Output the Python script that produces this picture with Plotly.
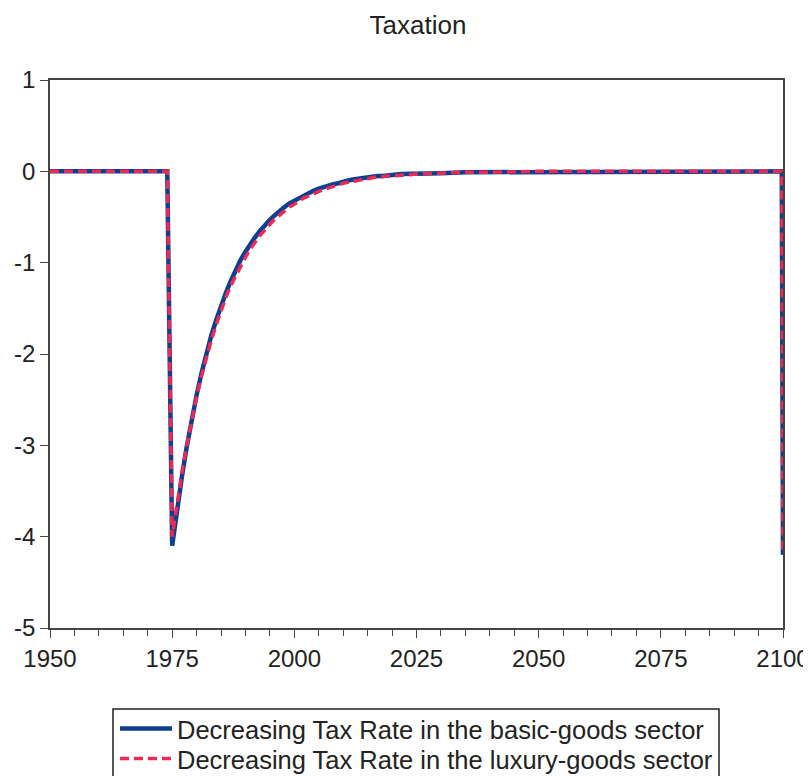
import plotly.graph_objects as go

years = [1950, 1960, 1970, 1974,
         1975, 1976, 1977, 1978, 1979, 1980, 1981, 1982, 1983, 1984,
         1985, 1986, 1987, 1988, 1989, 1990, 1991, 1992, 1993, 1994,
         1995, 1996, 1997, 1998, 1999, 2000, 2001, 2002, 2003, 2004,
         2005, 2006, 2007, 2008, 2009, 2010, 2011, 2012, 2013, 2014,
         2015, 2016, 2017, 2018, 2019, 2020, 2022, 2025, 2030, 2035,
         2040, 2050, 2060, 2075, 2090, 2099.75, 2100]

basic = [0.0, 0.0, 0.0, 0.0,
         -4.10, -3.70, -3.34, -3.01, -2.72, -2.45, -2.21, -2.00, -1.80, -1.63,
         -1.47, -1.33, -1.20, -1.08, -0.97, -0.88, -0.79, -0.72, -0.65, -0.58,
         -0.53, -0.48, -0.43, -0.39, -0.35, -0.32, -0.29, -0.26, -0.23, -0.21,
         -0.19, -0.17, -0.15, -0.14, -0.13, -0.11, -0.10, -0.09, -0.08, -0.07,
         -0.07, -0.06, -0.05, -0.05, -0.04, -0.04, -0.03, -0.03, -0.02, -0.01,
         -0.01, 0.0, 0.0, 0.0, 0.0, 0.0, -4.2]

luxury = [0.0, 0.0, 0.0, 0.0,
          -4.00, -3.63, -3.30, -3.00, -2.72, -2.47, -2.24, -2.03, -1.85, -1.68,
          -1.52, -1.38, -1.25, -1.14, -1.03, -0.94, -0.85, -0.77, -0.70, -0.64,
          -0.58, -0.52, -0.48, -0.43, -0.39, -0.36, -0.32, -0.29, -0.27, -0.24,
          -0.22, -0.20, -0.18, -0.16, -0.15, -0.13, -0.12, -0.11, -0.10, -0.09,
          -0.08, -0.07, -0.06, -0.06, -0.05, -0.05, -0.04, -0.03, -0.02, -0.01,
          -0.01, 0.0, 0.0, 0.0, 0.0, 0.0, -4.2]

names = ["Decreasing Tax Rate in the basic-goods sector",
         "Decreasing Tax Rate in the luxury-goods sector"]

x_ticks = [1950, 1975, 2000, 2025, 2050, 2075, 2100]
y_ticks = [1, 0, -1, -2, -3, -4, -5]
y_tick_text = ["1", "0", "-1", "-2", "-3", "-4", "-5"]

FONT = "Liberation Sans, Arial, sans-serif"
INK = "#222222"
AX = "#444444"

# figure is placed by the page with an 8px body offset
W, H = 803, 768
L, R, T, B = 42, 28, 72, 148
PH = H - T - B          # plot height in px
PW = W - L - R          # plot width in px


def px_to_paper_y(fig_y):
    return (H - B - fig_y) / PH


def px_to_paper_x(fig_x):
    return (fig_x - L) / PW


fig = go.Figure()
fig.add_trace(go.Scatter(x=years, y=basic, mode="lines", name=names[0],
                         legend="legend",
                         line=dict(color="#0b3f91", width=4.5)))
fig.add_trace(go.Scatter(x=years, y=luxury, mode="lines", name=names[1],
                         legend="legend2",
                         line=dict(color="#ec2a55", width=3.5, dash="9px,5px")))

leg_common = dict(orientation="v", xanchor="left", yanchor="middle",
                  x=px_to_paper_x(107), borderwidth=0, bgcolor="rgba(0,0,0,0)",
                  font=dict(family=FONT, size=25.5, color=INK),
                  itemwidth=52)

fig.update_layout(
    width=W, height=H,
    margin=dict(l=L, r=R, t=T, b=B, autoexpand=False),
    paper_bgcolor="white", plot_bgcolor="white",
    font=dict(family=FONT, size=24, color=INK),
    title=dict(text="Taxation", x=410 / W, xanchor="center",
               y=1 - 17 / H, yanchor="middle",
               font=dict(family=FONT, size=26, color=INK)),
    showlegend=True,
    legend=dict(y=px_to_paper_y(721), **leg_common),
    legend2=dict(y=px_to_paper_y(751), **leg_common),
    shapes=[dict(type="rect", xref="paper", yref="paper",
                 x0=px_to_paper_x(105), x1=px_to_paper_x(711),
                 y0=px_to_paper_y(701), y1=px_to_paper_y(800),
                 line=dict(color=INK, width=1.5), fillcolor="rgba(0,0,0,0)",
                 layer="below")],
)
fig.update_xaxes(range=[1950, 2100], tickmode="array", tickvals=x_ticks,
                 ticks="outside", ticklen=8, tickwidth=1, tickcolor=AX,
                 showline=True, linecolor=AX, linewidth=1.5, mirror=True,
                 showgrid=False, zeroline=False, automargin=False,
                 minor=dict(dtick=5, tick0=1950, ticks="outside", ticklen=6,
                            tickcolor=AX, showgrid=False),
                 tickfont=dict(size=24, color=INK))
fig.update_yaxes(range=[-5, 1], tickmode="array", tickvals=y_ticks,
                 ticktext=y_tick_text,
                 ticks="outside", ticklen=8, tickwidth=1, tickcolor=AX,
                 showline=True, linecolor=AX, linewidth=1.5, mirror=True,
                 showgrid=False, zeroline=False, automargin=False,
                 tickfont=dict(size=24, color=INK))

fig.write_html("out.html")
